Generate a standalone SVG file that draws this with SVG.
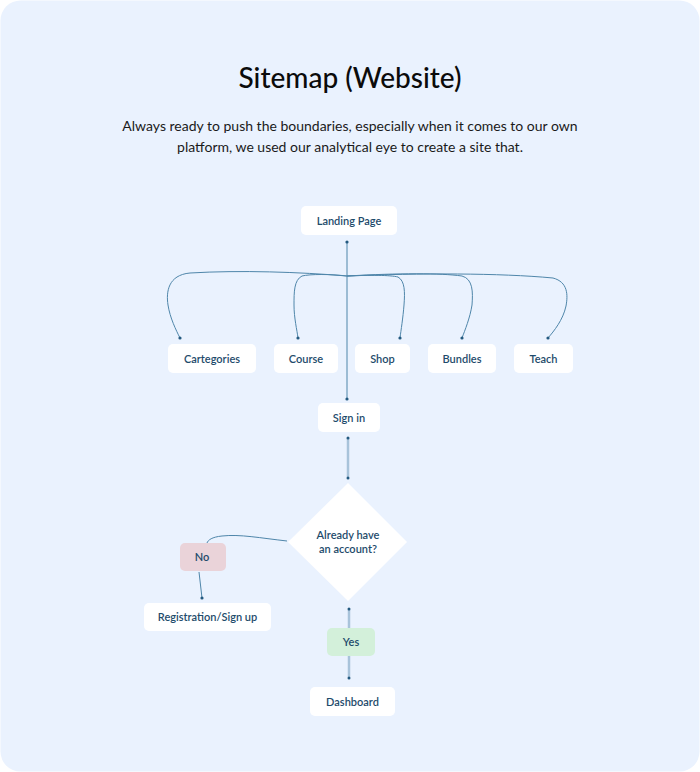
<svg xmlns="http://www.w3.org/2000/svg" width="700" height="772" viewBox="0 0 700 772">
<defs>
<style>
.card{fill:#ffffff;}
.lbl{font-family:"Lato","Inter",sans-serif;font-size:11px;font-weight:600;fill:#1E4B6B;text-anchor:middle;}
.thin{fill:none;stroke:#4F86AA;stroke-width:1;}
.thick{fill:none;stroke:#A8C3DA;stroke-width:2.5;}
.dot{fill:#245A80;}
</style>
<marker id="d" viewBox="0 0 4 4" refX="2" refY="2" markerWidth="4" markerHeight="4" markerUnits="userSpaceOnUse"><circle cx="2" cy="2" r="1.6" fill="#245A80"/></marker>
</defs>
<rect x="0" y="0" width="700" height="772" fill="#ffffff"/>
<rect x="0.5" y="0.5" width="699" height="771" rx="20" fill="#EAF2FE"/>
<text x="350" y="88" font-family="Lato, Inter, sans-serif" font-size="28" font-weight="500" fill="#0B0B0B" text-anchor="middle">Sitemap (Website)</text>
<text font-family="Lato, Inter, sans-serif" font-size="14" fill="#1A1A1A" text-anchor="middle"><tspan x="350" y="131">Always ready to push the boundaries, especially when it comes to our own</tspan><tspan x="350" y="152">platform, we used our analytical eye to create a site that.</tspan></text>

<g id="connectors">
<path class="thin" d="M347 242 L347 399" marker-start="url(#d)" marker-end="url(#d)"/>
<path class="thin" d="M347 276 C300 272 240 270 190 273 C168 275 166 292 168 305 C170 318 176 330 180 338" marker-end="url(#d)"/>
<path class="thin" d="M347 276 C330 274 310 274 302 276 C294 280 294 292 294 305 C294 318 297 330 298 338" marker-end="url(#d)"/>
<path class="thin" d="M347 276 C370 275 390 275 398 277 C405 281 405 292 404 305 C403 318 401 330 400 338" marker-end="url(#d)"/>
<path class="thin" d="M347 276 C400 273 440 273 462 276 C473 279 473 292 472 305 C470 318 465 330 462 338" marker-end="url(#d)"/>
<path class="thin" d="M347 276 C420 273 500 273 553 278 C568 282 568 295 566 306 C563 320 554 331 548 338" marker-end="url(#d)"/>
<path class="thick" d="M348 438 L348 477"/>
<circle class="dot" cx="348" cy="438" r="1.5"/>
<circle class="dot" cx="348" cy="478" r="1.5"/>
<path class="thin" d="M287 541 C260 538 240 534 222 536 C212 537 208 540 207 543"/>
<path class="thin" d="M199 572 L202 598" marker-end="url(#d)"/>
<path class="thick" d="M349 610 L349 628"/>
<circle class="dot" cx="349" cy="609" r="1.5"/>
<path class="thick" d="M349 656 L349 677"/>
<circle class="dot" cx="349" cy="678" r="1.5"/>
</g>

<g id="landing"><rect class="card" x="301" y="206" width="96" height="29" rx="5"/><text class="lbl" x="349" y="224.5">Landing Page</text></g>
<g id="cartegories"><rect class="card" x="168" y="344" width="88" height="29" rx="5"/><text class="lbl" x="212" y="362.5">Cartegories</text></g>
<g id="course"><rect class="card" x="274" y="344" width="64" height="29" rx="5"/><text class="lbl" x="306" y="362.5">Course</text></g>
<g id="shop"><rect class="card" x="355" y="344" width="55" height="29" rx="5"/><text class="lbl" x="382.5" y="362.5">Shop</text></g>
<g id="bundles"><rect class="card" x="428" y="344" width="68" height="29" rx="5"/><text class="lbl" x="462" y="362.5">Bundles</text></g>
<g id="teach"><rect class="card" x="514" y="344" width="59" height="29" rx="5"/><text class="lbl" x="543.5" y="362.5">Teach</text></g>
<g id="signin"><rect class="card" x="318" y="403" width="62" height="29" rx="5"/><text class="lbl" x="349" y="421.5">Sign in</text></g>
<g id="decision"><polygon class="card" points="348,483 407,542 348,601 288,542"/><text class="lbl" x="348" y="539">Already have</text><text class="lbl" x="348" y="553">an account?</text></g>
<g id="no"><rect x="180" y="543" width="46" height="28" rx="5" fill="#EAD3D9"/><text class="lbl" x="202" y="561">No</text></g>
<g id="registration"><rect class="card" x="144" y="603" width="127" height="28" rx="5"/><text class="lbl" x="207.5" y="621">Registration/Sign up</text></g>
<g id="yes"><rect x="327" y="628" width="48" height="28" rx="5" fill="#D3F0DA"/><text class="lbl" x="351" y="646">Yes</text></g>
<g id="dashboard"><rect class="card" x="310" y="687" width="85" height="29" rx="5"/><text class="lbl" x="352.5" y="705.5">Dashboard</text></g>
</svg>
